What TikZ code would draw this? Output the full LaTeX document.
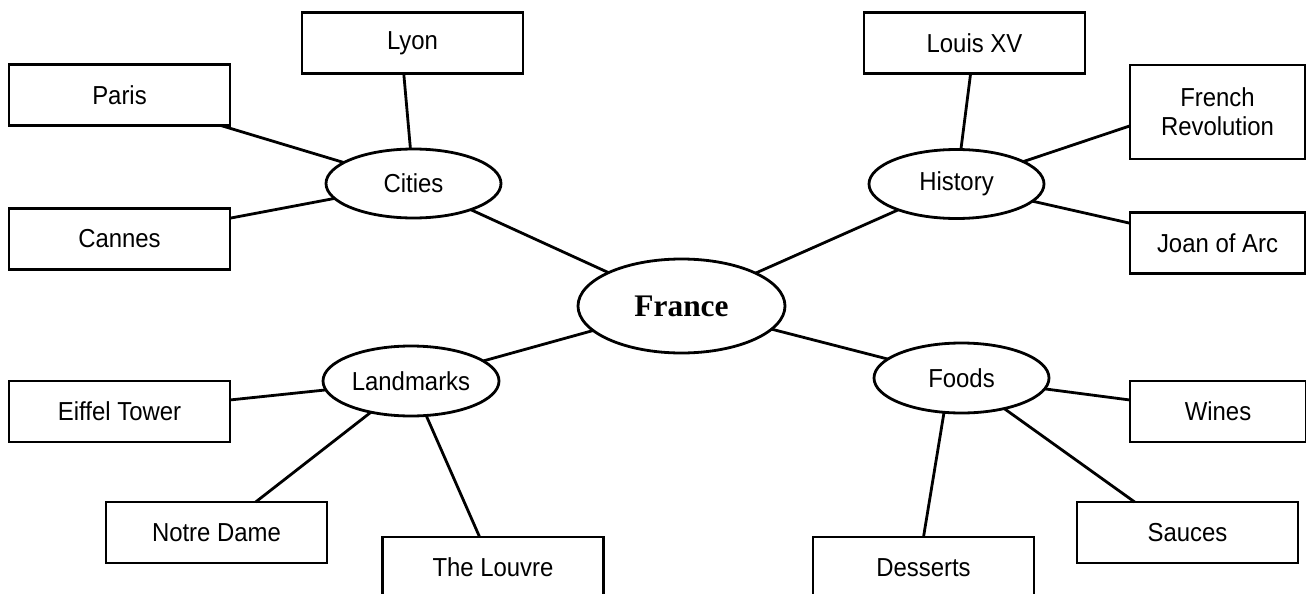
\documentclass[tikz,border=0pt]{standalone}
\usepackage{fontspec}
\setmainfont{Liberation Sans}[FakeStretch=0.92]
\newfontfamily\titlefont{Liberation Serif}
\usetikzlibrary{shapes.geometric}
\begin{document}
\begin{tikzpicture}[x=0.5pt,y=-0.5pt,
  every node/.style={inner sep=0pt, outer sep=0pt},
  lbl/.style={font=\fontsize{13}{14.5}\selectfont, align=center},
  box/.style={lbl, draw, line width=1.4pt, rectangle, minimum width=110.5pt, minimum height=30.5pt},
  narrowbox/.style={box, minimum width=87.5pt},
  oval/.style={lbl, draw, line width=1.4pt, ellipse, minimum width=87.5pt, minimum height=34.5pt},
  link/.style={line width=1.4pt}]
\path[use as bounding box] (0,0) rectangle (1306,594);
\clip (0,0) rectangle (1306,594);

% central and topic ellipses
\node[oval, minimum width=103.5pt, minimum height=47pt, font=\titlefont\bfseries\fontsize{15.7}{18}\selectfont] (france) at (681.5,306) {France};
\node[oval] (cities) at (413.5,183.5) {Cities};
\node[oval] (history) at (956.5,184) {History};
\node[oval, minimum width=88pt, minimum height=35pt] (landmarks) at (411,381) {Landmarks};
\node[oval, minimum height=35pt] (foods) at (961.5,378) {Foods};

% leaf boxes
\node[box] (lyon) at (412.5,43) {Lyon};
\node[box] (paris) at (119.5,95) {Paris};
\node[box] (cannes) at (119.5,239) {Cannes};
\node[box] (louis) at (974.5,43) {Louis XV};
\node[narrowbox, minimum height=47pt] (fr) at (1217.5,112) {French\\Revolution};
\node[narrowbox] (joan) at (1217.5,243) {Joan of Arc};
\node[box] (eiffel) at (119.5,411.5) {Eiffel Tower};
\node[box] (notre) at (216.5,532.5) {Notre Dame};
\node[box] (louvre) at (493,567.5) {The Louvre};
\node[box] (desserts) at (923.5,567.5) {Desserts};
\node[box] (sauces) at (1187.5,532.5) {Sauces};
\node[narrowbox, minimum width=88pt] (wines) at (1218,411.5) {Wines};

% connectors
\draw[link] (france) -- (cities);
\draw[link] (france) -- (history);
\draw[link] (france) -- (landmarks);
\draw[link] (france) -- (foods);

\draw[link] (cities) -- (lyon.254);
\draw[link] (cities) -- (paris);
\draw[link] (cities) -- (cannes);

\draw[link] (history) -- (louis);
\draw[link] (history) -- (fr.189);
\draw[link] (history) -- (joan);

\draw[link] (landmarks) -- (eiffel);
\draw[link] (landmarks) -- (notre);
\draw[link] (landmarks) -- (louvre);

\draw[link] (foods.243) -- (desserts.north);
\draw[link] (foods) -- (sauces.150);
\draw[link] (foods) -- (wines);
\end{tikzpicture}
\end{document}
